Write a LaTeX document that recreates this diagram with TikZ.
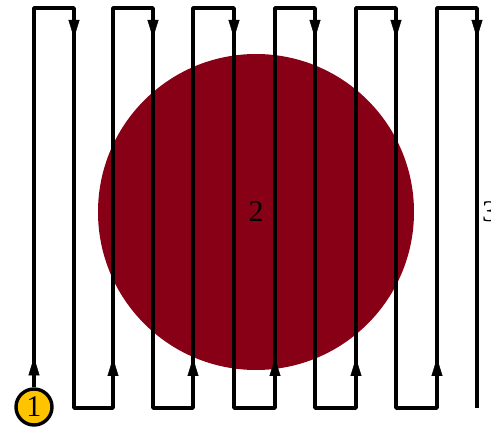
\documentclass[tikz,border=0pt]{standalone}
\usepackage{fontspec}
\setmainfont{Liberation Serif}
\usetikzlibrary{arrows.meta,decorations.markings}
\definecolor{discred}{RGB}{135,0,22}
\definecolor{startyellow}{RGB}{255,196,0}
\tikzset{
    lane/.style={line width=3.4pt, line join=round},
    tipdown/.style={postaction={decorate}, decoration={markings,
        mark=at position 30pt with {\arrow{Triangle[length=18pt,width=11pt]}}}},
    tipup/.style={postaction={decorate}, decoration={markings,
        mark=at position #1 with {\arrow{Triangle[length=18pt,width=11pt]}}}},
    tipup/.default=50pt,
    bigtext/.style={font=\fontsize{30}{32}\selectfont}
}
\begin{document}
\begin{tikzpicture}[x=1pt, y=-1pt]
    \useasboundingbox (0,0) rectangle (491,427);
    % the disc
    \node [circle, fill=discred, minimum size=316pt, inner sep=0pt, bigtext] (disc) at (256,212){2};
    \node [anchor=west, inner sep=0pt, bigtext] (three) at (482,212){3};
    % turning points, t = top, b = bottom
    \coordinate (t1) at (34,8);   \coordinate (t2) at (74,8);
    \coordinate (b2) at (74,408); \coordinate (b3) at (113,408);
    \coordinate (t3) at (113,8);  \coordinate (t4) at (153,8);
    \coordinate (b4) at (153,408);\coordinate (b5) at (193,408);
    \coordinate (t5) at (193,8);  \coordinate (t6) at (234,8);
    \coordinate (b6) at (234,408);\coordinate (b7) at (275,408);
    \coordinate (t7) at (275,8);  \coordinate (t8) at (315,8);
    \coordinate (b8) at (315,408);\coordinate (b9) at (356,408);
    \coordinate (t9) at (356,8);  \coordinate (t10) at (396,8);
    \coordinate (b10) at (396,408);\coordinate (b11) at (437,408);
    \coordinate (t11) at (437,8); \coordinate (t12) at (477,8);
    \coordinate (b12) at (477,408);
    % start point
    \node [circle, draw, line width=3.4pt, fill=startyellow, minimum size=36pt, inner sep=0pt, bigtext] (start) at (34,407){1};
    % the meander
    \draw [lane] (start.north) -- (t1) -- (t2) -- (b2) -- (b3) -- (t3) -- (t4) -- (b4) -- (b5) -- (t5) -- (t6) -- (b6) -- (b7) -- (t7) -- (t8) -- (b8) -- (b9) -- (t9) -- (t10) -- (b10) -- (b11) -- (t11) -- (t12) -- (b12);
    % direction marks
    \path [tipup=30pt] (start.north) -- (t1);
    \path [tipdown] (t2) -- (b2);
    \path [tipup] (b3) -- (t3);
    \path [tipdown] (t4) -- (b4);
    \path [tipup] (b5) -- (t5);
    \path [tipdown] (t6) -- (b6);
    \path [tipup] (b7) -- (t7);
    \path [tipdown] (t8) -- (b8);
    \path [tipup] (b9) -- (t9);
    \path [tipdown] (t10) -- (b10);
    \path [tipup] (b11) -- (t11);
    \path [tipdown] (t12) -- (b12);
\end{tikzpicture}
\end{document}
